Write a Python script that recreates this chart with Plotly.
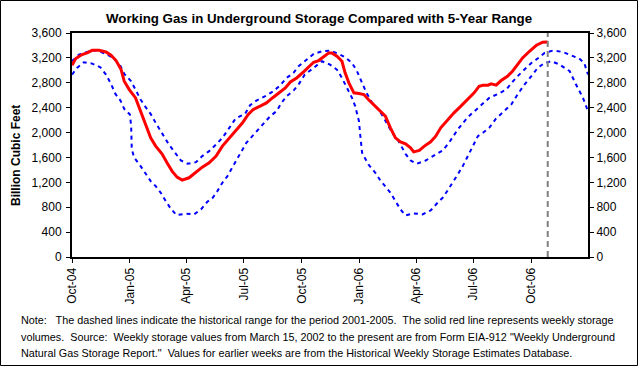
import plotly.graph_objects as go

# ---------------- data ----------------
red_dates = ["2004-10-01","2004-10-07","2004-10-17","2004-10-25","2004-11-02","2004-11-13","2004-11-24","2004-12-02","2004-12-10","2004-12-18",
             "2004-12-23","2004-12-31","2005-01-10","2005-01-18","2005-01-26","2005-02-03","2005-02-11","2005-02-21","2005-03-01","2005-03-09",
             "2005-03-17","2005-03-25","2005-04-05","2005-04-16","2005-04-26","2005-05-07","2005-05-18","2005-05-28","2005-06-08","2005-06-18",
             "2005-06-29","2005-07-08","2005-07-16","2005-07-27","2005-08-06","2005-08-17","2005-08-28","2005-09-05","2005-09-13","2005-09-23",
             "2005-10-04","2005-10-12","2005-10-20","2005-10-28","2005-11-05","2005-11-13","2005-11-18","2005-11-26","2005-12-04","2005-12-09",
             "2005-12-15","2005-12-23","2005-12-31","2006-01-08","2006-01-15","2006-01-23","2006-02-03","2006-02-11","2006-02-19","2006-02-27",
             "2006-03-07","2006-03-15","2006-03-23","2006-03-28","2006-04-06","2006-04-14","2006-04-24","2006-05-02","2006-05-10","2006-05-21",
             "2006-05-31","2006-06-11","2006-06-22","2006-07-02","2006-07-10","2006-07-16","2006-07-24","2006-07-29","2006-08-06","2006-08-14",
             "2006-08-24","2006-09-01","2006-09-09","2006-09-17","2006-09-28","2006-10-09","2006-10-19","2006-10-27"]
red_values = [3082,3189,3253,3280,3322,3322,3296,3242,3157,3012,
              2825,2691,2557,2343,2129,1915,1782,1658,1514,1380,
              1284,1236,1273,1370,1444,1514,1621,1782,1915,2022,
              2156,2290,2370,2424,2477,2568,2654,2718,2814,2878,
              2975,3055,3130,3157,3226,3280,3280,3226,3146,2959,
              2798,2638,2627,2611,2531,2450,2354,2263,2076,1915,
              1851,1819,1755,1690,1712,1782,1851,1942,2076,2210,
              2317,2424,2531,2638,2745,2761,2761,2782,2761,2836,
              2905,2985,3092,3199,3306,3403,3451,3456]

max_dates = ["2004-10-01","2004-10-12","2004-10-25","2004-11-08","2004-11-24","2004-12-05","2004-12-16","2004-12-23","2005-01-03","2005-01-10",
             "2005-01-18","2005-01-26","2005-02-03","2005-02-11","2005-02-24","2005-03-04","2005-03-12","2005-03-23","2005-04-03","2005-04-16",
             "2005-04-26","2005-05-07","2005-05-18","2005-05-28","2005-06-08","2005-06-18","2005-07-03","2005-07-11","2005-07-21","2005-08-04",
             "2005-08-17","2005-08-28","2005-09-07","2005-09-18","2005-09-26","2005-10-06","2005-10-20","2005-11-02","2005-11-15","2005-11-29",
             "2005-12-09","2005-12-20","2005-12-28","2006-01-05","2006-01-12","2006-01-21","2006-01-29","2006-02-06","2006-02-14","2006-02-22",
             "2006-03-04","2006-03-15","2006-03-23","2006-04-02","2006-04-16","2006-04-30","2006-05-13","2006-05-23","2006-06-06","2006-06-22",
             "2006-07-05","2006-07-13","2006-07-26","2006-08-09","2006-08-22","2006-09-01","2006-09-09","2006-09-20","2006-10-01","2006-10-11",
             "2006-10-22","2006-11-04","2006-11-20","2006-12-03","2006-12-16","2006-12-24","2006-12-30"]
max_values = [3146,3253,3296,3322,3264,3199,3092,2943,2825,2675,
              2531,2408,2300,2156,1926,1808,1701,1551,1498,1525,
              1621,1701,1808,1915,2076,2226,2300,2440,2514,2584,
              2664,2761,2878,2959,3065,3146,3264,3306,3317,3264,
              3210,3119,2985,2798,2638,2477,2397,2279,2129,1996,
              1862,1658,1551,1498,1551,1632,1712,1835,2049,2247,
              2370,2450,2557,2621,2691,2814,2905,3012,3119,3189,
              3280,3317,3296,3242,3189,3119,2932]

min_dates = ["2004-10-01","2004-10-09","2004-10-20","2004-11-02","2004-11-15","2004-11-24","2004-12-02","2004-12-09","2004-12-17","2004-12-23",
             "2005-01-01","2005-01-03","2005-01-04","2005-01-08","2005-01-18","2005-01-26","2005-02-03","2005-02-11","2005-02-19","2005-02-27",
             "2005-03-07","2005-03-16","2005-03-31","2005-04-13","2005-04-24","2005-05-04","2005-05-12","2005-05-20","2005-05-28","2005-06-05",
             "2005-06-13","2005-06-21","2005-06-29","2005-07-05","2005-07-16","2005-08-01","2005-08-12","2005-08-22","2005-08-30","2005-09-07",
             "2005-09-18","2005-09-26","2005-10-06","2005-10-20","2005-11-02","2005-11-15","2005-11-26","2005-12-04","2005-12-12","2005-12-20",
             "2005-12-25","2005-12-31","2006-01-02","2006-01-05","2006-01-15","2006-01-26","2006-02-03","2006-02-11","2006-02-19","2006-02-27",
             "2006-03-07","2006-03-15","2006-03-28","2006-04-11","2006-04-24","2006-05-05","2006-05-13","2006-05-21","2006-05-29","2006-06-06",
             "2006-06-14","2006-06-22","2006-06-30","2006-07-08","2006-07-16","2006-07-26","2006-08-06","2006-08-19","2006-08-30","2006-09-09",
             "2006-09-20","2006-10-01","2006-10-11","2006-10-22","2006-11-02","2006-11-15","2006-12-01","2006-12-11","2006-12-22","2006-12-30"]
min_values = [2932,3039,3130,3108,3050,2932,2782,2621,2514,2381,
              2290,2103,1728,1594,1461,1337,1220,1140,1033,899,
              776,674,696,685,765,888,942,1059,1193,1300,
              1444,1568,1712,1835,1958,2145,2263,2343,2477,2584,
              2675,2771,2932,3039,3146,3092,3012,2878,2728,2557,
              2424,2183,1969,1675,1487,1354,1231,1124,1033,899,
              765,669,701,685,749,872,952,1070,1193,1327,
              1461,1621,1782,1942,1996,2076,2226,2343,2450,2611,
              2771,2905,3039,3119,3146,3092,2985,2771,2557,2343]

tick_dates = ["2004-10-01","2005-01-01","2005-04-01","2005-07-01","2005-10-01",
              "2006-01-01","2006-04-01","2006-07-01","2006-10-01"]
tick_labels = ["Oct-04","Jan-05","Apr-05","Jul-05","Oct-05","Jan-06","Apr-06","Jul-06","Oct-06"]
y_ticks = [0, 400, 800, 1200, 1600, 2000, 2400, 2800, 3200, 3600]

title_text = "Working Gas in Underground Storage Compared with 5-Year Range"
y_title = "Billion Cubic Feet"
note_lines = [
    "Note:\u00a0\u00a0 The dashed lines indicate the historical range for the period 2001-2005.\u00a0 The solid red line represents weekly storage",
    "volumes.\u00a0 Source:\u00a0 Weekly storage values from March 15, 2002 to the present are from Form EIA-912 \"Weekly Underground",
    "Natural Gas Storage Report.\"\u00a0 Values for earlier weeks are from the Historical Weekly Storage Estimates Database.",
]

# ---------------- figure ----------------
W, H = 638, 366
L, R, T, B = 72, 50, 33, 109
PW, PH = W - L - R, H - T - B

FONT = "Liberation Sans, Arial, sans-serif"

fig = go.Figure()
fig.add_trace(go.Scatter(x=max_dates, y=max_values, mode="lines",
                         line=dict(color="#0000FF", width=2, dash="4px,4px"), hoverinfo="skip"))
fig.add_trace(go.Scatter(x=min_dates, y=min_values, mode="lines",
                         line=dict(color="#0000FF", width=2, dash="4px,4px"), hoverinfo="skip"))
fig.add_trace(go.Scatter(x=red_dates, y=red_values, mode="lines",
                         line=dict(color="#FF0000", width=3)))
# vertical marker at the last reported week, on the right-hand axis
fig.add_trace(go.Scatter(x=[red_dates[-1], red_dates[-1]], y=[y_ticks[0], y_ticks[-1]], yaxis="y2",
                         mode="lines", line=dict(color="#808080", width=2, dash="6px,4px"), hoverinfo="skip"))

axis_common = dict(showgrid=False, zeroline=False, showline=True, linecolor="black", linewidth=2,
                   ticks="outside", ticklen=4, tickwidth=1, tickcolor="black",
                   tickfont=dict(family=FONT, size=12, color="black"))

fig.update_layout(
    width=W, height=H, margin=dict(l=L, r=R, t=T, b=B, autoexpand=False),
    paper_bgcolor="white", plot_bgcolor="white", showlegend=False,
    xaxis=dict(type="date", range=["2004-10-01", "2006-12-30"], tickmode="array",
               tickvals=tick_dates, ticktext=tick_labels, tickangle=-90, mirror=True,
               **axis_common),
    yaxis=dict(range=[0, 3600], tickmode="array", tickvals=y_ticks, tickformat=",",
               ticklabelstandoff=2, **axis_common),
    yaxis2=dict(range=[0, 3600], overlaying="y", side="right", tickmode="array",
                tickvals=y_ticks, tickformat=",", **axis_common),
    title=dict(text="<b>" + title_text + "</b>", x=0.5, xref="container", xanchor="center",
               y=1 - 18 / H, yref="container", yanchor="middle",
               font=dict(family=FONT, size=13.3, color="black")),
)

fig.add_annotation(text="<b>" + y_title + "</b>", textangle=-90, xref="paper", yref="paper",
                   x=(16 - L) / PW, y=(T + PH - 156) / PH, showarrow=False,
                   xanchor="center", yanchor="middle",
                   font=dict(family=FONT, size=12, color="black"))

for i, line in enumerate(note_lines):
    yc = 320 + i * 16.5
    fig.add_annotation(text=line, xref="paper", yref="paper",
                       x=(19 - L) / PW, y=(T + PH - yc) / PH, showarrow=False,
                       xanchor="left", yanchor="middle",
                       font=dict(family=FONT, size=10.8, color="black"))

# outer border of the whole chart
fig.add_shape(type="rect", xref="paper", yref="paper",
              x0=(0.5 - L) / PW, x1=(W - 0.5 - L) / PW,
              y0=(T + PH - (H - 0.5)) / PH, y1=(T + PH - 0.5) / PH,
              line=dict(color="black", width=1), fillcolor="rgba(0,0,0,0)", layer="below")

fig.write_html("out.html", config={"displayModeBar": False},
               post_script="document.body.style.margin='0';document.body.style.padding='0';")
